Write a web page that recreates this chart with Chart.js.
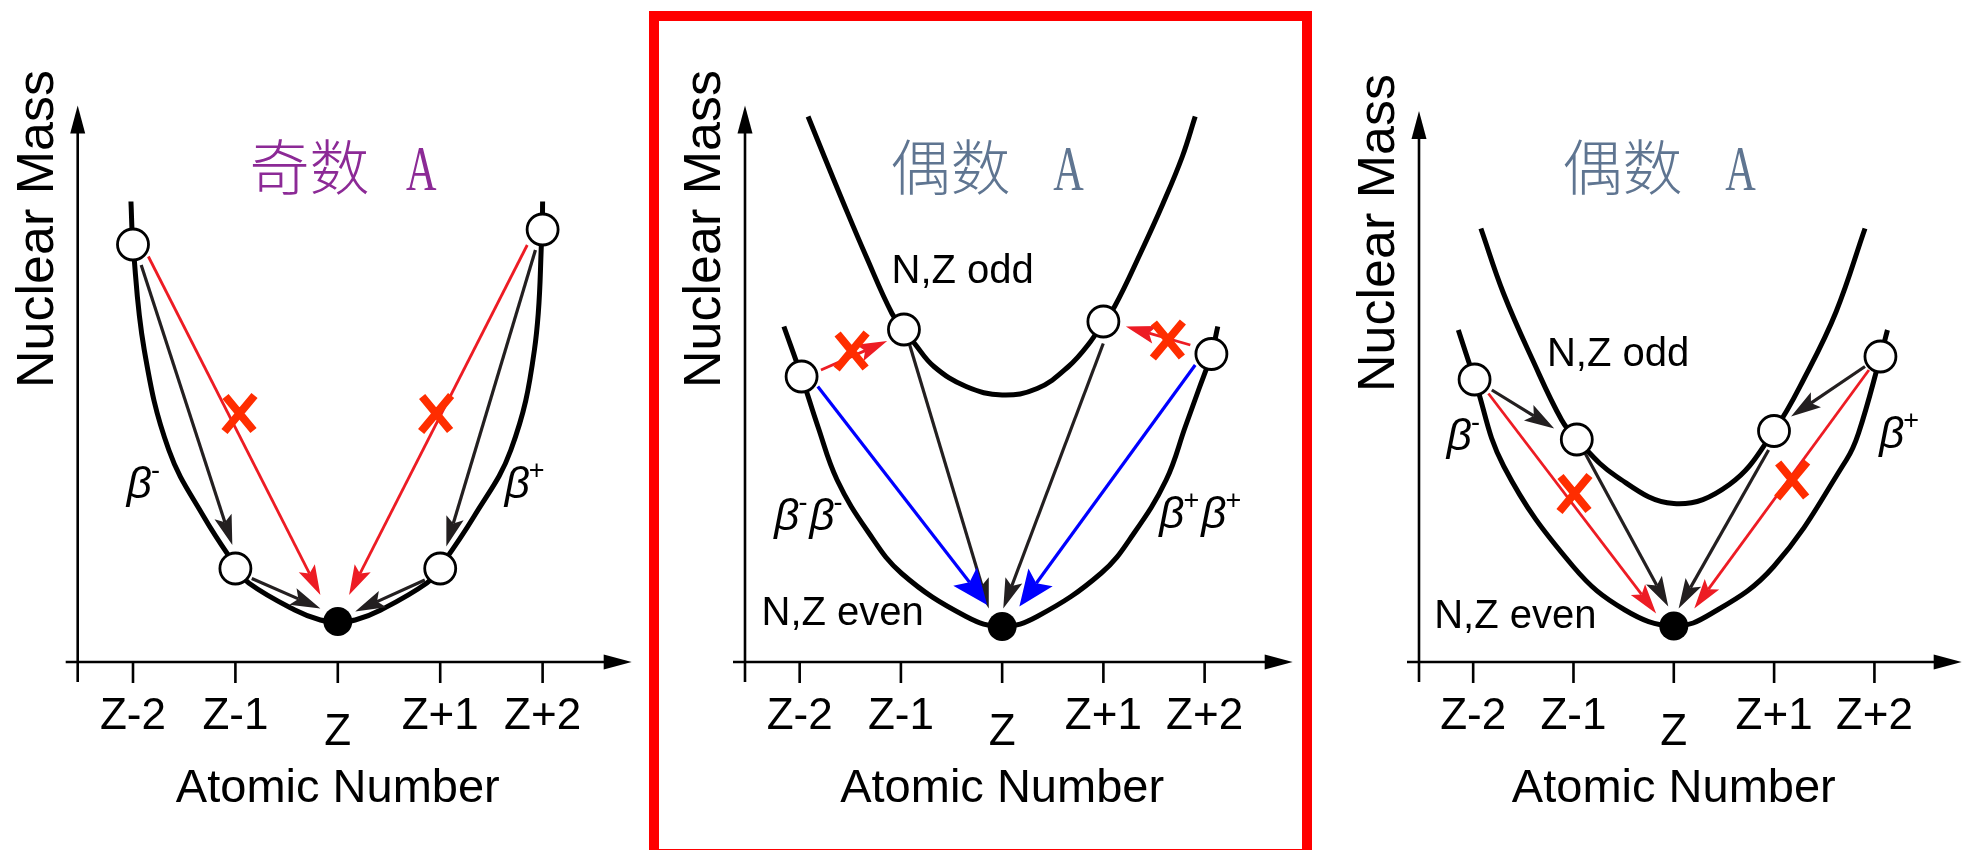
<!DOCTYPE html>
<html>
<head>
<meta charset="utf-8">
<title>Beta decay mass parabolas</title>
<script src="https://cdn.jsdelivr.net/npm/chart.js@4.4.1/dist/chart.umd.min.js"></script>
<style>
  html, body { margin: 0; padding: 0; width: 1966px; height: 850px; overflow: hidden; background: #fff; }
  .panel { position: absolute; top: 0; height: 850px; }
  .panel canvas { display: block; }
  #frame { position: absolute; left: 649px; top: 11px; width: 643px; height: 828px;
           border: 10px solid #ff0000; pointer-events: none; z-index: 5; }
</style>
</head>
<body>
<div class="panel" style="left:0px;width:650px"><canvas id="p1" width="650" height="850"></canvas></div>
<div class="panel" style="left:660px;width:651px"><canvas id="p2" width="651" height="850"></canvas></div>
<div class="panel" style="left:1320px;width:660px"><canvas id="p3" width="660" height="850"></canvas></div>
<div id="frame"></div>
<script>
// x: atomic number relative to Z, y: nuclear mass (arbitrary units)
const tickValues = [-2, -1, 0, 1, 2];
const tickLabels = ['Z-2', 'Z-1', 'Z', 'Z+1', 'Z+2'];

// panel 1 - odd A, one parabola
const p1CurveX = [-2.02, -2.00, -1.89, -1.65, -1.31, -0.98, -0.87, -0.42, -0.17, 0, 0.17, 0.42, 0.87, 0.99, 1.33, 1.69, 1.92, 1.995, 2.0];
const p1CurveY = [9.21, 8.35, 6.24, 4.24, 2.91, 1.87, 1.58, 1.04, 0.84, 0.81, 0.84, 1.04, 1.58, 1.87, 2.91, 4.24, 6.24, 8.65, 9.21];
const p1NucZ = [-2, -1, 1, 2];
const p1NucM = [8.35, 1.87, 1.87, 8.65];
const p1StableZ = [0];
const p1StableM = [0.81];
const p1BlackArrows = [[-1.92, 7.94, -1.03, 2.34], [1.93, 8.24, 1.06, 2.31], [-0.84, 1.67, -0.17, 1.07], [0.85, 1.64, 0.17, 1.01]];
const p1RedArrows = [[-1.85, 8.11, -0.17, 1.34], [1.85, 8.34, 0.11, 1.34]];
const p1Crosses = [[-0.96, 4.97], [0.96, 4.97]];

// panel 2 - even A, odd-odd and even-even parabolas
const p2UpperX = [-1.917, -1.757, -1.566, -1.343, -1.088, -0.97, -0.865, -0.674, -0.356, 0, 0.346, 0.65, 0.87, 1.0, 1.111, 1.365, 1.589, 1.780, 1.907];
const p2UpperY = [10.91, 10.11, 9.17, 8.11, 6.97, 6.65, 6.37, 5.91, 5.51, 5.34, 5.47, 5.90, 6.40, 6.81, 7.11, 8.17, 9.17, 10.11, 10.91];
const p2LowerX = [-2.156, -1.981, -1.82, -1.63, -1.327, -0.992, -0.356, 0, 0.346, 0.98, 1.30, 1.62, 1.81, 1.94, 2.067, 2.13];
const p2LowerY = [6.71, 5.71, 4.71, 3.64, 2.61, 1.77, 0.91, 0.71, 0.91, 1.78, 2.57, 3.64, 4.71, 5.44, 6.16, 6.71];
const p2NucZ = [-1.981, -0.97, 1.0, 2.067];
const p2NucM = [5.71, 6.65, 6.81, 6.16];
const p2StableZ = [0];
const p2StableM = [0.71];
const p2BlueArrows = [[-1.821, 5.51, -0.148, 1.14], [1.907, 5.94, 0.170, 1.11]];
const p2BlackArrows = [[-0.913, 6.34, -0.132, 1.07], [0.999, 6.37, 0.011, 1.07]];
const p2RedArrows = [[-1.79, 5.84, -1.136, 6.42], [1.859, 6.34, 1.222, 6.71]];
const p2Crosses = [[-1.487, 6.22], [1.637, 6.44]];

// panel 3 - even A, single beta steps
const p3UpperX = [-1.923, -1.697, -1.407, -1.118, -0.967, -0.571, 0, 0.555, 0.999, 1.32, 1.617, 1.906];
const p3UpperY = [8.67, 7.37, 6.04, 4.84, 4.45, 3.71, 3.17, 3.55, 4.62, 5.75, 7.0, 8.67];
const p3LowerX = [-2.148, -1.986, -1.694, -1.003, -0.487, 0, 0.375, 0.996, 1.72, 1.842, 2.06, 2.13];
const p3LowerY = [6.64, 5.65, 3.91, 1.91, 1.04, 0.72, 0.97, 1.91, 4.04, 4.58, 6.11, 6.64];
const p3NucZ = [-1.986, -0.967, 0.999, 2.06];
const p3NucM = [5.65, 4.45, 4.62, 6.11];
const p3StableZ = [0];
const p3StableM = [0.72];
const p3BlackArrows = [[-1.814, 5.44, -1.192, 4.67], [1.906, 5.91, 1.169, 4.91], [-0.883, 4.17, -0.055, 1.11], [0.945, 4.24, 0.048, 1.07]];
const p3RedArrows = [[-1.848, 5.37, -0.176, 0.97], [1.945, 5.84, 0.204, 1.07]];
const p3Crosses = [[-0.99, 3.37], [1.18, 3.64]];

const X_MIN = -2.54, X_MAX = 2.87, Y_MAX = 11.2;
const SANS = '"Liberation Sans", Arial, sans-serif';

const BLACK = { color: '#231F20', width: 3.2, head: 30, half: 9 };
const RED = { color: '#ED1C24', width: 2.8, head: 30, half: 9 };
const BLUE = { color: '#0000FF', width: 3.2, head: 36, half: 15 };

const panelCfg = {
  p1: {
    yTip: 11.13, massY: 8.66,
    arrows: [[p1BlackArrows, BLACK], [p1RedArrows, RED]],
    crosses: p1Crosses,
    title: { cjk: '奇数', latin: 'A', cjkX: -0.276, latinX: 0.814, y: 9.44, color: '#8C2A96' },
    labels: [],
    betas: [{ x: -2.06, y: 3.28, signs: ['-'] }, { x: 1.63, y: 3.28, signs: ['+'] }]
  },
  p2: {
    yTip: 11.13, massY: 8.66,
    arrows: [[p2BlackArrows, BLACK], [p2RedArrows, RED], [p2BlueArrows, BLUE]],
    crosses: p2Crosses,
    title: { cjk: '偶数', latin: 'A', cjkX: -0.509, latinX: 0.655, y: 9.44, color: '#5F7591' },
    labels: [{ text: 'N,Z odd', x: -0.39, y: 7.59 }, { text: 'N,Z even', x: -1.575, y: 0.74 }],
    betas: [{ x: -2.25, y: 2.64, signs: ['-', '-'] }, { x: 1.553, y: 2.68, signs: ['+', '+'] }]
  },
  p3: {
    yTip: 11.02, massY: 8.58,
    arrows: [[p3BlackArrows, BLACK], [p3RedArrows, RED]],
    crosses: p3Crosses,
    title: { cjk: '偶数', latin: 'A', cjkX: -0.512, latinX: 0.664, y: 9.44, color: '#5F7591' },
    labels: [{ text: 'N,Z odd', x: -0.555, y: 5.93 }, { text: 'N,Z even', x: -1.58, y: 0.68 }],
    betas: [{ x: -2.263, y: 4.24, signs: ['-'] }, { x: 2.047, y: 4.28, signs: ['+'] }]
  }
};

function pts(xs, ys) { return xs.map((x, i) => ({ x: x, y: ys[i] })); }

function curve(xs, ys, order) {
  return { data: pts(xs, ys), borderColor: '#000', borderWidth: 5, pointRadius: 0,
           tension: 0.4, fill: false, clip: false, order: order };
}
function nuclides(xs, ys) {
  return { data: pts(xs, ys), showLine: false, pointRadius: 15.5, pointHoverRadius: 15.5,
           pointBorderWidth: 2.8, pointBackgroundColor: '#fff', pointBorderColor: '#000',
           clip: false, order: 1, arrowsUnder: true };
}
function stable(xs, ys) {
  return { data: pts(xs, ys), showLine: false, pointRadius: 14.5, pointHoverRadius: 14.5,
           pointBorderWidth: 0, pointBackgroundColor: '#000', pointBorderColor: '#000',
           clip: false, order: 0 };
}

function headAt(ctx, x2, y2, a, L, W, notch) {
  const c = Math.cos(a), s = Math.sin(a);
  ctx.beginPath();
  ctx.moveTo(x2, y2);
  ctx.lineTo(x2 - c * L - s * W, y2 - s * L + c * W);
  ctx.lineTo(x2 - c * L * notch, y2 - s * L * notch);
  ctx.lineTo(x2 - c * L + s * W, y2 - s * L - c * W);
  ctx.closePath();
  ctx.fill();
}

function drawArrow(ctx, x1, y1, x2, y2, st) {
  const a = Math.atan2(y2 - y1, x2 - x1);
  ctx.strokeStyle = st.color; ctx.fillStyle = st.color; ctx.lineWidth = st.width;
  ctx.beginPath();
  ctx.moveTo(x1, y1);
  ctx.lineTo(x2 - Math.cos(a) * st.head * 0.8, y2 - Math.sin(a) * st.head * 0.8);
  ctx.stroke();
  headAt(ctx, x2, y2, a, st.head, st.half, 0.8);
}

function drawAxes(chart) {
  const ctx = chart.ctx, x = chart.scales.x, y = chart.scales.y;
  const cfg = panelCfg[chart.canvas.id];
  const x0 = x.getPixelForValue(X_MIN), y0 = y.getPixelForValue(0);
  const xTip = x.getPixelForValue(X_MAX), yTip = y.getPixelForValue(cfg.yTip);
  ctx.save();
  ctx.strokeStyle = '#000'; ctx.fillStyle = '#000'; ctx.lineWidth = 2.6;
  ctx.beginPath();
  ctx.moveTo(x0 - 12, y0); ctx.lineTo(xTip - 20, y0);
  ctx.moveTo(x0, y.getPixelForValue(-0.4)); ctx.lineTo(x0, yTip + 20);
  tickValues.forEach(v => {
    const px = x.getPixelForValue(v);
    ctx.moveTo(px, y0); ctx.lineTo(px, y0 + 21);
  });
  ctx.stroke();
  headAt(ctx, xTip, y0, 0, 28, 7.5, 1);
  headAt(ctx, x0, yTip, -Math.PI / 2, 28, 7.5, 1);

  ctx.textAlign = 'center'; ctx.textBaseline = 'alphabetic';
  ctx.font = '44px ' + SANS;
  tickValues.forEach((v, i) => {
    ctx.fillText(tickLabels[i], x.getPixelForValue(v), y.getPixelForValue(v === 0 ? -1.66 : -1.34));
  });
  ctx.font = '47px ' + SANS;
  ctx.fillText('Atomic Number', x.getPixelForValue(0), y.getPixelForValue(-2.8));
  ctx.save();
  ctx.translate(x0 - 25, y.getPixelForValue(cfg.massY));
  ctx.rotate(-Math.PI / 2);
  ctx.font = '52px ' + SANS;
  ctx.fillText('Nuclear Mass', 0, 0);
  ctx.restore();
  ctx.restore();
}

function drawArrows(chart) {
  const ctx = chart.ctx, x = chart.scales.x, y = chart.scales.y;
  const cfg = panelCfg[chart.canvas.id];
  ctx.save();
  cfg.arrows.forEach(([list, st]) => {
    list.forEach(a => drawArrow(ctx, x.getPixelForValue(a[0]), y.getPixelForValue(a[1]),
                                     x.getPixelForValue(a[2]), y.getPixelForValue(a[3]), st));
  });
  ctx.strokeStyle = '#FF2D00'; ctx.lineWidth = 8; ctx.lineCap = 'butt';
  cfg.crosses.forEach(c => {
    const cx = x.getPixelForValue(c[0]), cy = y.getPixelForValue(c[1]);
    ctx.beginPath();
    ctx.moveTo(cx - 14, cy - 17); ctx.lineTo(cx + 14, cy + 17);
    ctx.moveTo(cx + 15, cy - 18); ctx.lineTo(cx - 15, cy + 18);
    ctx.stroke();
  });
  ctx.restore();
}

function drawTexts(chart) {
  const ctx = chart.ctx, x = chart.scales.x, y = chart.scales.y;
  const cfg = panelCfg[chart.canvas.id];
  const t = cfg.title;
  ctx.save();
  ctx.fillStyle = t.color; ctx.textAlign = 'center'; ctx.textBaseline = 'alphabetic';
  const by = y.getPixelForValue(t.y);
  ctx.font = '300 60px "Noto Sans CJK SC", sans-serif';
  ctx.fillText(t.cjk, x.getPixelForValue(t.cjkX), by);
  ctx.save();
  ctx.translate(x.getPixelForValue(t.latinX), by);
  ctx.scale(0.66, 1);
  ctx.font = '64px "Liberation Serif", "Times New Roman", serif';
  ctx.fillText(t.latin, 0, 0);
  ctx.restore();

  ctx.fillStyle = '#000';
  ctx.font = '40px ' + SANS;
  cfg.labels.forEach(l => ctx.fillText(l.text, x.getPixelForValue(l.x), y.getPixelForValue(l.y)));

  ctx.textAlign = 'left';
  cfg.betas.forEach(b => {
    let px = x.getPixelForValue(b.x);
    const py = y.getPixelForValue(b.y);
    b.signs.forEach(sg => {
      ctx.font = 'italic 44px ' + SANS;
      ctx.fillText('β', px, py);
      px += ctx.measureText('β').width;
      ctx.font = '27px ' + SANS;
      ctx.fillText(sg, px - 1, py - 19);
      px += ctx.measureText(sg).width + 1;
    });
  });
  ctx.restore();
}

const diagram = {
  id: 'diagram',
  beforeDatasetsDraw(chart) { drawAxes(chart); },
  beforeDatasetDraw(chart, args) {
    if (chart.data.datasets[args.index].arrowsUnder) drawArrows(chart);
  },
  afterDatasetsDraw(chart) { drawTexts(chart); }
};

function makePanel(id, datasets, padLeft, padRight) {
  return new Chart(document.getElementById(id), {
    type: 'line',
    data: { datasets: datasets },
    options: {
      responsive: false, animation: false, events: [],
      layout: { padding: { left: padLeft, right: padRight, top: 102, bottom: 188 } },
      scales: {
        x: { type: 'linear', min: X_MIN, max: X_MAX, display: false },
        y: { type: 'linear', min: 0, max: Y_MAX, display: false }
      },
      plugins: { legend: { display: false }, tooltip: { enabled: false } }
    },
    plugins: [diagram]
  });
}

makePanel('p1', [
  curve(p1CurveX, p1CurveY, 3),
  nuclides(p1NucZ, p1NucM),
  stable(p1StableZ, p1StableM)
], 77.7, 5.3);

makePanel('p2', [
  curve(p2UpperX, p2UpperY, 3),
  curve(p2LowerX, p2LowerY, 4),
  nuclides(p2NucZ, p2NucM),
  stable(p2StableZ, p2StableM)
], 85, 0.1);

makePanel('p3', [
  curve(p3UpperX, p3UpperY, 3),
  curve(p3LowerX, p3LowerY, 4),
  nuclides(p3NucZ, p3NucM),
  stable(p3StableZ, p3StableM)
], 99, 0.5);
</script>
</body>
</html>
